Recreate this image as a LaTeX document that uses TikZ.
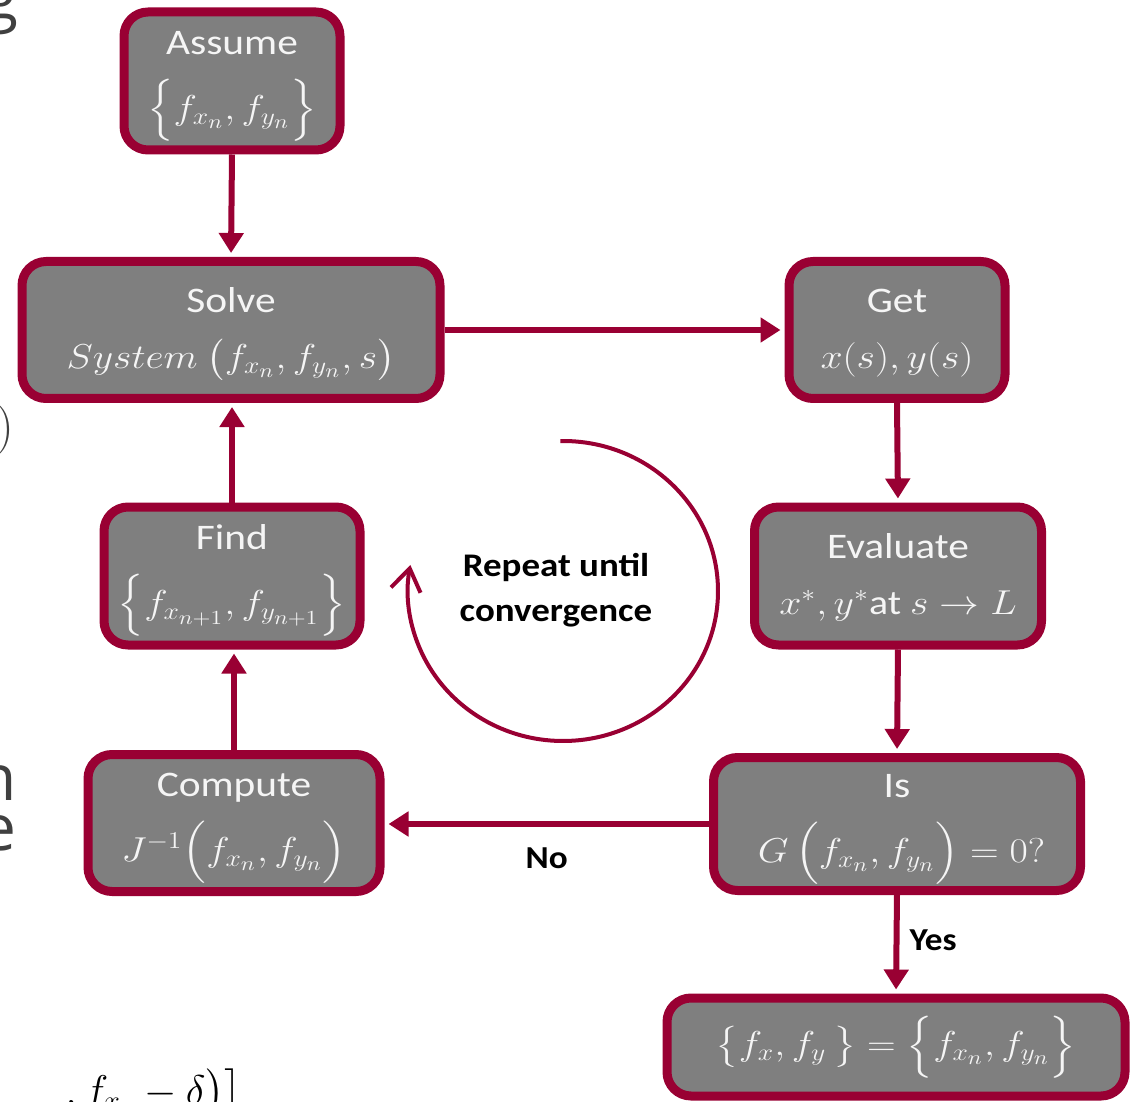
\documentclass[tikz,border=0pt]{standalone}
\usepackage{amsmath}
\usepackage{fontspec}
\setmainfont{Carlito}
\newfontfamily\slidefont{Open Sans}
\usepackage{graphicx}
\usetikzlibrary{arrows.meta}
\definecolor{crim}{HTML}{990033}
\definecolor{boxgray}{HTML}{7F7F7F}
\definecolor{boxtext}{HTML}{F5F5F5}
\definecolor{slidetext}{HTML}{404040}
\newcommand\mathline{\fontsize{17.28}{22}\selectfont}
\newcommand\twoline[2]{\scalebox{1.15}[1]{\begin{tabular}{@{}c@{}}\rule{0pt}{17pt}#1\\[6pt]{\mathline #2}\end{tabular}}}
\newcommand\oneline[1]{\scalebox{1.15}[1]{\mathline #1}}
\begin{document}
\begin{tikzpicture}[x=0.5pt,y=-0.5pt,
  fbox/.style={draw=crim, line width=4.5pt, fill=boxgray, rounded corners=12pt,
    inner sep=0pt, text=boxtext, font=\fontsize{18}{22}\selectfont},
  flow/.style={draw=crim, line width=3pt, -{Triangle[width=12pt,length=10pt]}, shorten >=2pt},
  lbl/.style={font=\fontsize{16}{19}\selectfont\bfseries, text=black, inner sep=0pt},
  frag/.style={font=\slidefont\fontsize{32}{25}\selectfont, text=slidetext, inner sep=0pt}]
\useasboundingbox (0,0) rectangle (1132,1102);
\clip (0,0) rectangle (1132,1102);
\fill[white] (0,0) rectangle (1132,1102);

% slide fragments at the edges
\node[frag, anchor=base east] (fragg) at (19,20) {g};
\node[frag, anchor=east, font=\fontsize{24.88}{30}\selectfont] (fragp) at (15,430) {$)$};
\node[frag, anchor=base east, align=right] (fragne) at (17,850) {n\\e};
\node[anchor=base east, inner sep=0pt, font=\fontsize{22}{26}\selectfont] (fragf) at (242,1104) {$,f_{x_n}-\delta\bigr)\bigr]$};

% boxes
\node[fbox, minimum width=108pt, minimum height=69pt] (assume) at (232,81)
  {\twoline{Assume}{$\Bigl\{f_{x_n},f_{y_n}\Bigr\}$}};
\node[fbox, minimum width=209pt, minimum height=68.5pt] (solve) at (231,330)
  {\twoline{Solve}{$System\ \bigl(f_{x_n},f_{y_n},s\bigr)$}};
\node[fbox, minimum width=108pt, minimum height=68.5pt] (get) at (897,330)
  {\twoline{Get}{$x(s),y(s)$}};
\node[fbox, minimum width=128pt, minimum height=69pt] (find) at (232,576)
  {\twoline{Find}{$\Bigl\{f_{x_{n+1}},f_{y_{n+1}}\Bigr\}$}};
\node[fbox, minimum width=143.5pt, minimum height=69pt] (eval) at (898,576)
  {\twoline{Evaluate}{$x^{*},y^{*}$at $s\rightarrow L$}};
\node[fbox, minimum width=146pt, minimum height=68.5pt] (compute) at (234,823)
  {\twoline{Compute}{$J^{-1}\Bigl(f_{x_n},f_{y_n}\Bigr)$}};
\node[fbox, minimum width=183.5pt, minimum height=66.5pt] (is) at (897,824)
  {\twoline{Is}{\ $G\,\Bigl(f_{x_n},f_{y_n}\Bigr)=0?$}};
\node[fbox, minimum width=229pt, minimum height=49pt] (result) at (896,1047)
  {\oneline{$\bigl\{f_x,f_y\,\bigr\}=\Bigl\{f_{x_n},f_{y_n}\Bigr\}$}};

% connectors
\draw[flow] (assume.south) -- (solve.north);
\draw[flow] (solve.east) -- (get.west);
\draw[flow] (get.south) -- (eval.north);
\draw[flow] (eval.south) -- (is.north);
\draw[flow] (is.west) -- (is.west -| compute.east)
  node[lbl, midway, yshift=-17pt] (nolbl) {\scalebox{1.1}[1]{No}};
\draw[flow] (is.south) -- (result.north)
  node[lbl, midway, anchor=west, xshift=5pt, yshift=2pt] (yeslbl) {\scalebox{1.1}[1]{Yes}};
\draw[flow] (compute.north) -- (compute.north |- find.south);
\draw[flow] (find.north) -- (find.north |- solve.south);

% repeat cycle
\coordinate (cc) at (563,591);
\node[font=\fontsize{16.5}{22.5}\selectfont\bfseries, inner sep=0pt] (rep) at (556,590)
  {\scalebox{1.12}[1]{\begin{tabular}{@{}c@{}}Repeat until\\convergence\end{tabular}}};
\draw[crim, line width=2pt, -{Straight Barb[length=11pt,width=15pt]}]
  (cc) ++(-91:155 and 150) arc[start angle=-91, end angle=190, x radius=155, y radius=150];
\end{tikzpicture}
\end{document}
